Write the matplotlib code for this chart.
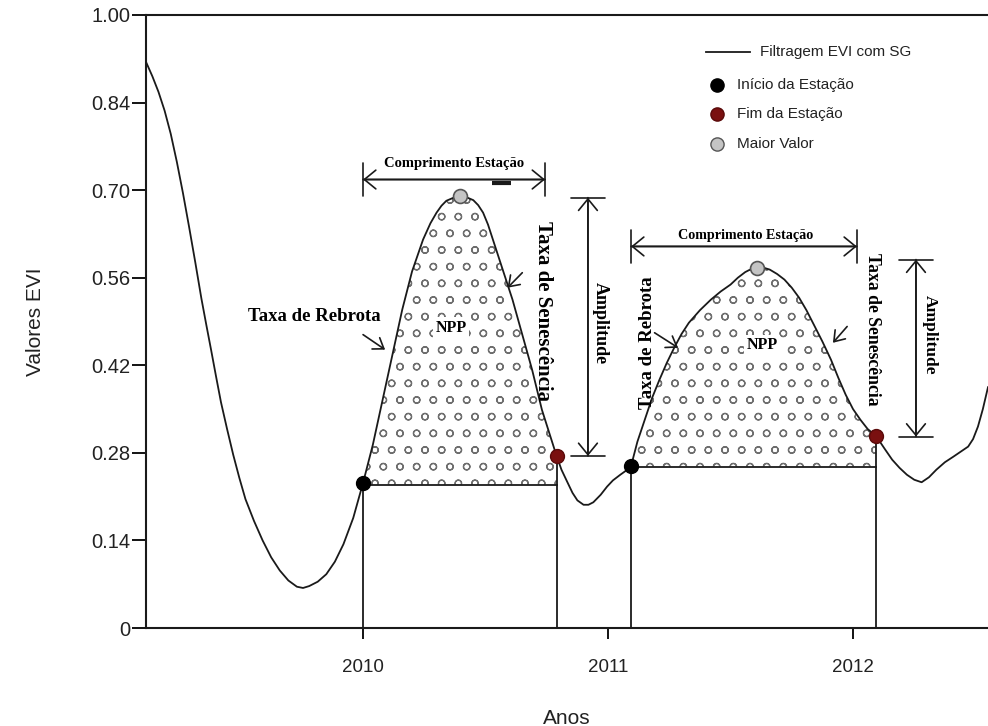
import numpy as np
import matplotlib
matplotlib.use("Agg")
import matplotlib.pyplot as plt

# ---------------- data ----------------
years = np.array([
    2009.114, 2009.14, 2009.165, 2009.19, 2009.215, 2009.24, 2009.265, 2009.29, 2009.315,
    2009.34, 2009.36, 2009.38, 2009.40, 2009.42, 2009.445, 2009.47, 2009.495,
    2009.52, 2009.555, 2009.59, 2009.625, 2009.66, 2009.695, 2009.73, 2009.755, 2009.78,
    2009.815, 2009.85, 2009.885, 2009.92, 2009.96, 2010.00,
    2010.04, 2010.08, 2010.12, 2010.16, 2010.20, 2010.245, 2010.275, 2010.30, 2010.32,
    2010.34, 2010.37, 2010.395, 2010.42, 2010.45, 2010.47, 2010.49, 2010.51, 2010.53,
    2010.57, 2010.61, 2010.65, 2010.69, 2010.73, 2010.79,
    2010.81, 2010.833, 2010.855, 2010.875, 2010.90, 2010.92, 2010.94, 2010.97, 2010.996,
    2011.02, 2011.05, 2011.075, 2011.094,
    2011.12, 2011.15, 2011.18, 2011.21, 2011.24, 2011.27, 2011.30, 2011.33, 2011.375,
    2011.42, 2011.46, 2011.50, 2011.53, 2011.56, 2011.585, 2011.61, 2011.635, 2011.66,
    2011.69, 2011.72, 2011.75, 2011.78, 2011.81, 2011.84, 2011.875, 2011.91, 2011.94,
    2011.97, 2012.00, 2012.03, 2012.06, 2012.094,
    2012.13, 2012.16, 2012.19, 2012.22, 2012.25, 2012.28, 2012.31, 2012.34, 2012.375,
    2012.41, 2012.44, 2012.47, 2012.49, 2012.51, 2012.53, 2012.551])
evi = np.array([
    0.905, 0.882, 0.857, 0.827, 0.790, 0.745, 0.695, 0.641, 0.585,
    0.527, 0.485, 0.444, 0.402, 0.361, 0.318, 0.277, 0.240,
    0.206, 0.171, 0.140, 0.113, 0.092, 0.076, 0.066, 0.064, 0.067,
    0.074, 0.086, 0.106, 0.134, 0.176, 0.232,
    0.293, 0.365, 0.437, 0.509, 0.570, 0.621, 0.647, 0.664, 0.675,
    0.683, 0.688, 0.690, 0.689, 0.684, 0.676, 0.664, 0.645, 0.621,
    0.573, 0.525, 0.469, 0.413, 0.349, 0.275,
    0.253, 0.234, 0.216, 0.204, 0.197, 0.197, 0.201, 0.213, 0.226,
    0.236, 0.245, 0.252, 0.259,
    0.298, 0.333, 0.368, 0.397, 0.424, 0.448, 0.470, 0.488, 0.508,
    0.525, 0.538, 0.549, 0.560, 0.569, 0.574, 0.576, 0.576, 0.573,
    0.566, 0.557, 0.544, 0.528, 0.508, 0.485, 0.458, 0.429, 0.400,
    0.373, 0.350, 0.333, 0.318, 0.307,
    0.286, 0.269, 0.256, 0.245, 0.237, 0.233, 0.241, 0.253, 0.265,
    0.274, 0.282, 0.290, 0.302, 0.322, 0.350, 0.385])

start_years = [2010.00, 2011.094]
start_vals = [0.232, 0.259]
end_years = [2010.79, 2012.094]
end_vals = [0.275, 0.307]
peak_years = [2010.395, 2011.61]
peak_vals = [0.690, 0.576]
base_vals = [0.229, 0.258]

ytick_pos = [0, 0.14, 0.28, 0.42, 0.56, 0.70, 0.84, 0.98]
ytick_labels = ["0", "0.14", "0.28", "0.42", "0.56", "0.70", "0.84", "1.00"]
xtick_pos = [2010, 2011, 2012]
xtick_labels = ["2010", "2011", "2012"]

legend_labels = ["Filtragem EVI com SG", "Início da Estação", "Fim da Estação", "Maior Valor"]

# ---------------- figure ----------------
plt.rcParams['hatch.linewidth'] = 0.9
fig = plt.figure(figsize=(9.88, 7.26), dpi=100)
ax = fig.add_axes([146/988, 1-628/726, 1-146/988, (628-15)/726])
ax.set_xlim(2009.114, 2012.551)
ax.set_ylim(0, 0.98)

sans = 'Liberation Sans'
serif = 'Liberation Serif'
ink = '#1a1a1a'

ax.plot(years, evi, color=ink, lw=1.3, zorder=3, solid_joinstyle='round')

# seasons: baselines, verticals, hatched NPP areas
for s, e, sv, ev, b in zip(start_years, end_years, start_vals, end_vals, base_vals):
    m = (years >= s - 1e-9) & (years <= e + 1e-9)
    ax.fill_between(years[m], b, evi[m], facecolor='none', edgecolor='#6e6e6e',
                    hatch='o', linewidth=0, zorder=1)
    ax.plot([s, e], [b, b], color=ink, lw=1.3, zorder=2)
    ax.plot([s, s], [0, sv], color=ink, lw=1.3, zorder=2)
    ax.plot([e, e], [0, ev], color=ink, lw=1.3, zorder=2)

ms = 10
ax.plot(start_years, start_vals, 'o', color='black', ms=ms, zorder=5)
ax.plot(end_years, end_vals, 'o', color='#7a1010', mec='#5a0a0a', ms=ms, zorder=5)
ax.plot(peak_years, peak_vals, 'o', color='#c4c4c4', mec='#555555', mew=1.2, ms=ms, zorder=5)

# ---------------- annotations ----------------
def span(x0, y0, x1, y1):
    ax.annotate('', xy=(x1, y1), xytext=(x0, y0),
                arrowprops=dict(arrowstyle='<->, head_length=0.55, head_width=0.45',
                                lw=1.2, color=ink, shrinkA=0, shrinkB=0,
                                mutation_scale=15))
    ax.annotate('', xy=(x1, y1), xytext=(x0, y0),
                arrowprops=dict(arrowstyle='|-|, widthA=0.6, widthB=0.6',
                                lw=1.2, color=ink, shrinkA=0, shrinkB=0,
                                mutation_scale=20))

def small_arrow(x0, y0, x1, y1):
    ax.annotate('', xy=(x1, y1), xytext=(x0, y0),
                arrowprops=dict(arrowstyle='->, head_length=0.5, head_width=0.35',
                                lw=1.2, color=ink, shrinkA=0, shrinkB=0,
                                mutation_scale=14))

npp_box = dict(boxstyle='square,pad=0.15', fc='white', ec='none')

# season 1
span(2010.0, 0.717, 2010.743, 0.717)
ax.plot([2010.527, 2010.605], [0.712, 0.712], color=ink, lw=3, solid_capstyle='butt')
ax.text(2010.37, 0.742, "Comprimento Estação", family=serif, weight='bold', fontsize=10.5,
        ha='center', va='center')
span(2010.918, 0.688, 2010.918, 0.275)
ax.text(2010.967, 0.487, "Amplitude", family=serif, weight='bold', fontsize=13,
        rotation=270, ha='center', va='center')
ax.text(2010.735, 0.506, "Taxa de Senescência", family=serif, weight='bold', fontsize=15,
        rotation=270, ha='center', va='center')
ax.text(2009.80, 0.498, "Taxa de Rebrota", family=serif, weight='bold', fontsize=13.5,
        ha='center', va='center')
small_arrow(2010.0, 0.469, 2010.09, 0.445)
small_arrow(2010.65, 0.568, 2010.59, 0.544)
ax.text(2010.36, 0.480, "NPP", family=serif, weight='bold', fontsize=11.5,
        ha='center', va='center', zorder=4, bbox=npp_box)

# season 2
span(2011.094, 0.610, 2012.016, 0.610)
ax.text(2011.56, 0.628, "Comprimento Estação", family=serif, weight='bold', fontsize=10.2,
        ha='center', va='center')
span(2012.257, 0.589, 2012.257, 0.306)
ax.text(2012.314, 0.469, "Amplitude", family=serif, weight='bold', fontsize=12.5,
        rotation=270, ha='center', va='center')
ax.text(2012.08, 0.477, "Taxa de Senescência", family=serif, weight='bold', fontsize=12.7,
        rotation=270, ha='center', va='center')
ax.text(2011.163, 0.456, "Taxa de Rebrota", family=serif, weight='bold', fontsize=13.5,
        rotation=90, ha='center', va='center')
small_arrow(2011.19, 0.472, 2011.286, 0.448)
small_arrow(2011.976, 0.482, 2011.918, 0.456)
ax.text(2011.63, 0.452, "NPP", family=serif, weight='bold', fontsize=11.5,
        ha='center', va='center', zorder=4, bbox=npp_box)

# ---------------- manual legend ----------------
tr = ax.transAxes
ax.plot([0.665, 0.717], [0.9396, 0.9396], color=ink, lw=1.3, transform=tr)
ax.text(0.729, 0.9396, legend_labels[0], transform=tr, family=sans, fontsize=11,
        va='center', ha='left', color='#222222')
leg_styles = [dict(color='black', mec='black'),
              dict(color='#7a1010', mec='#5a0a0a'),
              dict(color='#c4c4c4', mec='#555555')]
leg_y = [0.886, 0.8385, 0.7896]
for lab, st, yy in zip(legend_labels[1:], leg_styles, leg_y):
    ax.plot([0.678], [yy], 'o', ms=9.5, transform=tr, **st)
    ax.text(0.702, yy, lab, transform=tr, family=sans, fontsize=11,
            va='center', ha='left', color='#222222')

# ---------------- axes styling ----------------
ax.set_yticks(ytick_pos)
ax.set_yticklabels(ytick_labels)
ax.set_xticks(xtick_pos)
ax.set_xticklabels(xtick_labels)
for lab in ax.get_yticklabels():
    lab.set_family(sans)
    lab.set_fontsize(14.5)
    lab.set_color('#222222')
for lab in ax.get_xticklabels():
    lab.set_family(sans)
    lab.set_fontsize(13.5)
    lab.set_color('#222222')
ax.tick_params(axis='y', direction='out', length=10, width=1.3, pad=1.5)
ax.tick_params(axis='x', direction='out', length=8, width=1.3, pad=14)
ax.spines['right'].set_visible(False)
for sp in ['left', 'bottom', 'top']:
    ax.spines[sp].set_linewidth(1.5)
    ax.spines[sp].set_color(ink)

ax.set_ylabel("Valores EVI", family=sans, fontsize=15, labelpad=33, color='#222222')
ax.set_xlabel("Anos", family=sans, fontsize=15, labelpad=24, color='#222222')

fig.savefig("out.png", dpi=100)
